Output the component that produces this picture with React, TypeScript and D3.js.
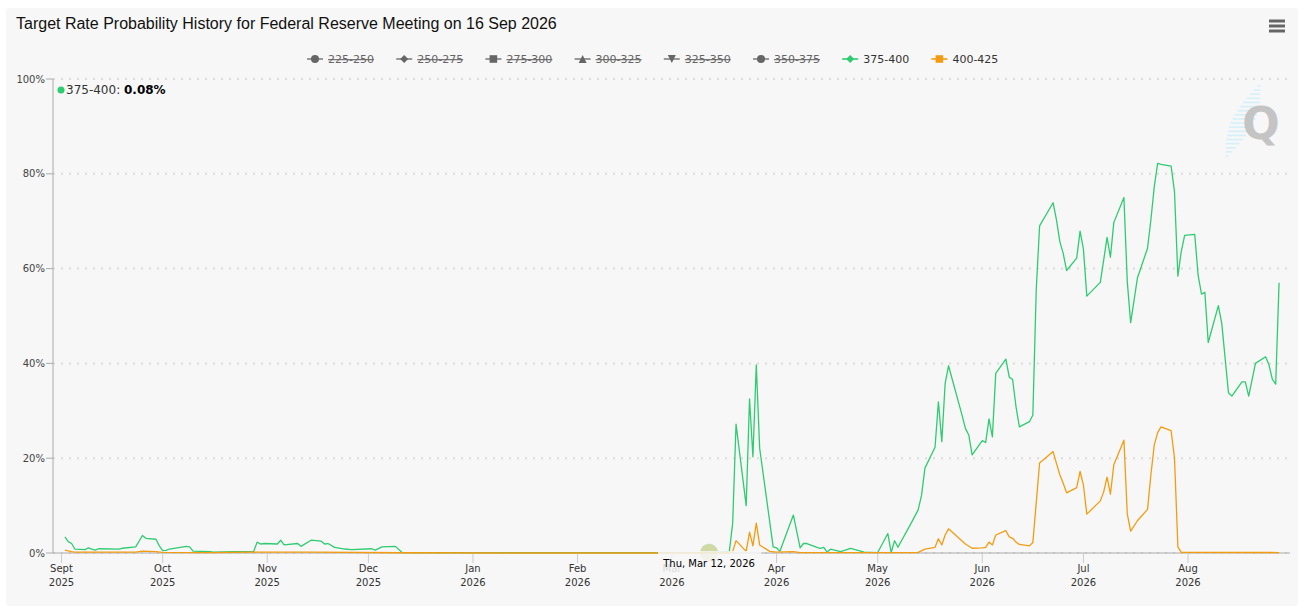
import React from "react";
import * as d3 from "d3";

// legend entries (hidden ones are struck through)
const legendNames = ["225-250", "250-275", "275-300", "300-325", "325-350", "350-375", "375-400", "400-425"];
const legendSymbols = ["circle", "diamond", "square", "triangle", "triangle-down", "circle", "diamond", "square"];
const legendVisible = [false, false, false, false, false, false, true, true];

const yTicks = [0, 20, 40, 60, 80, 100];

// 375-400 probability (%)
const rate375: [string, number][] = [
  ["2025-09-02", 3.4], ["2025-09-03", 2.4], ["2025-09-04", 2.0], ["2025-09-05", 0.8],
  ["2025-09-08", 0.7], ["2025-09-09", 1.1], ["2025-09-10", 0.8], ["2025-09-11", 0.6],
  ["2025-09-12", 0.9], ["2025-09-18", 0.8], ["2025-09-19", 1.0], ["2025-09-23", 1.3],
  ["2025-09-25", 3.7], ["2025-09-26", 3.1], ["2025-09-29", 2.9], ["2025-09-30", 1.5],
  ["2025-10-01", 0.5], ["2025-10-02", 0.55], ["2025-10-03", 0.84], ["2025-10-08", 1.4],
  ["2025-10-09", 1.3], ["2025-10-10", 0.4], ["2025-10-15", 0.3], ["2025-10-16", 0.2],
  ["2025-10-22", 0.3], ["2025-10-28", 0.35], ["2025-10-29", 2.3], ["2025-10-30", 1.9],
  ["2025-10-31", 2.0], ["2025-11-04", 1.9], ["2025-11-05", 2.7], ["2025-11-06", 1.7],
  ["2025-11-10", 2.0], ["2025-11-11", 1.4], ["2025-11-14", 2.7], ["2025-11-17", 2.5],
  ["2025-11-18", 1.9], ["2025-11-19", 2.0], ["2025-11-21", 1.2], ["2025-11-24", 0.84],
  ["2025-11-26", 0.7], ["2025-12-02", 0.9], ["2025-12-03", 0.6], ["2025-12-05", 1.3],
  ["2025-12-09", 1.4], ["2025-12-11", 0.1], ["2026-01-15", 0.08], ["2026-02-16", 0.08],
  ["2026-03-12", 0.08], ["2026-03-18", 0.3], ["2026-03-19", 6.3], ["2026-03-20", 27.2],
  ["2026-03-23", 10.0], ["2026-03-24", 32.5], ["2026-03-25", 20.3], ["2026-03-26", 39.7],
  ["2026-03-27", 22.1], ["2026-03-31", 1.3], ["2026-04-01", 1.1], ["2026-04-02", 0.35],
  ["2026-04-06", 8.0], ["2026-04-08", 1.1], ["2026-04-09", 2.0], ["2026-04-10", 2.0],
  ["2026-04-13", 1.2], ["2026-04-14", 1.0], ["2026-04-15", 1.2], ["2026-04-16", 0.2],
  ["2026-04-17", 0.8], ["2026-04-20", 0.3], ["2026-04-23", 1.0], ["2026-04-27", 0.2],
  ["2026-05-01", 0.1], ["2026-05-04", 4.1], ["2026-05-05", 0.1], ["2026-05-06", 2.6],
  ["2026-05-07", 1.2], ["2026-05-11", 6.4], ["2026-05-13", 9.1], ["2026-05-14", 12.2],
  ["2026-05-15", 17.9], ["2026-05-18", 22.3], ["2026-05-19", 31.9], ["2026-05-20", 23.5],
  ["2026-05-21", 35.8], ["2026-05-22", 39.5], ["2026-05-26", 29.1], ["2026-05-27", 26.3],
  ["2026-05-28", 24.9], ["2026-05-29", 20.7], ["2026-06-01", 23.7], ["2026-06-02", 23.3],
  ["2026-06-03", 28.3], ["2026-06-04", 24.5], ["2026-06-05", 37.9], ["2026-06-08", 40.9],
  ["2026-06-09", 37.1], ["2026-06-10", 36.6], ["2026-06-11", 30.9], ["2026-06-12", 26.6],
  ["2026-06-15", 27.7], ["2026-06-16", 29.1], ["2026-06-17", 55.5], ["2026-06-18", 69.0],
  ["2026-06-22", 73.9], ["2026-06-23", 70.3], ["2026-06-24", 65.7], ["2026-06-25", 63.2],
  ["2026-06-26", 59.6], ["2026-06-29", 62.2], ["2026-06-30", 67.9], ["2026-07-01", 64.1],
  ["2026-07-02", 54.2], ["2026-07-06", 57.1], ["2026-07-07", 61.8], ["2026-07-08", 66.6],
  ["2026-07-09", 62.4], ["2026-07-10", 69.7], ["2026-07-13", 75.0], ["2026-07-14", 57.2],
  ["2026-07-15", 48.6], ["2026-07-17", 58.0], ["2026-07-20", 64.3], ["2026-07-21", 70.3],
  ["2026-07-22", 77.3], ["2026-07-23", 82.2], ["2026-07-24", 82.0], ["2026-07-27", 81.6],
  ["2026-07-28", 76.2], ["2026-07-29", 58.4], ["2026-07-30", 63.6], ["2026-07-31", 67.0],
  ["2026-08-03", 67.2], ["2026-08-04", 58.6], ["2026-08-05", 54.6], ["2026-08-06", 55.0],
  ["2026-08-07", 44.4], ["2026-08-10", 52.2], ["2026-08-11", 48.5], ["2026-08-13", 33.8],
  ["2026-08-14", 33.1], ["2026-08-17", 36.1], ["2026-08-18", 36.1], ["2026-08-19", 33.1],
  ["2026-08-21", 40.0], ["2026-08-24", 41.4], ["2026-08-25", 39.7], ["2026-08-26", 36.7],
  ["2026-08-27", 35.6], ["2026-08-28", 57.0],
];

// 400-425 probability (%)
const rate400: [string, number][] = [
  ["2025-09-02", 0.6], ["2025-09-04", 0.3], ["2025-09-05", 0.2], ["2025-09-23", 0.2],
  ["2025-09-25", 0.4], ["2025-09-29", 0.3], ["2025-10-01", 0.15], ["2025-10-15", 0.1],
  ["2025-10-29", 0.2], ["2025-11-14", 0.2], ["2025-12-11", 0.05], ["2026-01-15", 0.0],
  ["2026-03-18", 0.0], ["2026-03-19", 0.3], ["2026-03-20", 2.6], ["2026-03-23", 0.35],
  ["2026-03-24", 4.4], ["2026-03-25", 1.5], ["2026-03-26", 6.3], ["2026-03-27", 1.7],
  ["2026-03-30", 0.35], ["2026-04-01", 0.2], ["2026-04-06", 0.3], ["2026-04-08", 0.1],
  ["2026-05-12", 0.1], ["2026-05-13", 0.15], ["2026-05-15", 0.8], ["2026-05-18", 1.2],
  ["2026-05-19", 3.0], ["2026-05-20", 1.7], ["2026-05-21", 3.8], ["2026-05-22", 5.1],
  ["2026-05-27", 1.9], ["2026-05-29", 1.0], ["2026-06-01", 1.1], ["2026-06-02", 1.2],
  ["2026-06-03", 2.3], ["2026-06-04", 1.7], ["2026-06-05", 3.8], ["2026-06-08", 4.7],
  ["2026-06-09", 3.4], ["2026-06-10", 3.1], ["2026-06-11", 2.3], ["2026-06-12", 1.8],
  ["2026-06-15", 1.5], ["2026-06-16", 2.2], ["2026-06-18", 19.0], ["2026-06-22", 21.4],
  ["2026-06-23", 18.9], ["2026-06-24", 16.5], ["2026-06-25", 14.7], ["2026-06-26", 12.7],
  ["2026-06-29", 13.8], ["2026-06-30", 17.2], ["2026-07-01", 14.3], ["2026-07-02", 8.2],
  ["2026-07-06", 11.0], ["2026-07-07", 12.9], ["2026-07-08", 16.0], ["2026-07-09", 12.4],
  ["2026-07-10", 18.6], ["2026-07-13", 23.8], ["2026-07-14", 8.2], ["2026-07-15", 4.6],
  ["2026-07-17", 6.8], ["2026-07-20", 9.2], ["2026-07-21", 16.5], ["2026-07-22", 22.8],
  ["2026-07-23", 25.4], ["2026-07-24", 26.6], ["2026-07-27", 25.8], ["2026-07-28", 20.0],
  ["2026-07-29", 1.3], ["2026-07-30", 0.15], ["2026-08-28", 0.1],
];

const hoverDate = "2026-03-12";
const hoverLabel = "Thu, Mar 12, 2026";
const hoverValue = "0.08%";

const GREEN = "#2ecc71";
const ORANGE = "#f39c12";
const FONT = "'DejaVu Sans', sans-serif";

const parse = d3.utcParse("%Y-%m-%d");

type Pt = { date: Date; value: number };
const toPts = (rows: [string, number][]): Pt[] => rows.map(([d, v]) => ({ date: parse(d)!, value: v }));

const symbolPath = (type: string, r: number) => {
  switch (type) {
    case "circle":
      return `M${-r},0a${r},${r} 0 1,0 ${2 * r},0a${r},${r} 0 1,0 ${-2 * r},0Z`;
    case "diamond":
      return `M0,${-r}L${r},0L0,${r}L${-r},0Z`;
    case "square":
      return `M${-r},${-r}H${r}V${r}H${-r}Z`;
    case "triangle":
      return `M0,${-r}L${r},${r}H${-r}Z`;
    default:
      return `M${-r},${-r}H${r}L0,${r}Z`;
  }
};

const App: React.FC = () => {
  const width = 1299;
  const height = 609;
  const plotLeft = 53;
  const plotRight = 1290;
  const plotTop = 79;
  const plotBottom = 553;

  const x = d3
    .scaleUtc()
    .domain([parse("2025-09-01")!, parse("2026-08-01")!])
    .range([61.5, 1188]);

  const y = d3.scaleLinear().domain([0, 100]).range([plotBottom, plotTop]);

  const line = d3
    .line<Pt>()
    .x((d) => x(d.date))
    .y((d) => y(d.value));

  const green = toPts(rate375);
  const orange = toPts(rate400);

  const months = d3.utcMonth.range(parse("2025-09-01")!, parse("2026-08-02")!);
  const fmtMonth = d3.utcFormat("%b");
  const fmtYear = d3.utcFormat("%Y");

  const hx = x(parse(hoverDate)!);

  const legendStart = 307;
  const legendStep = 89.2;
  const legendY = 59;

  // decorative stripes for the watermark logo
  const stripes = d3.range(18).map((i) => {
    const t = i / 17;
    const cy = 86 + t * 70;
    const cx = 1262 - t * 32;
    const w = 3 + 20 * Math.sin(Math.PI * t);
    return { cy, x1: cx - w / 2 - 3, x2: cx + w / 2 - 3 };
  });

  return (
    <svg
      width={width}
      height={height}
      viewBox={`0 0 ${width} ${height}`}
      style={{ position: "absolute", left: 0, top: 0 }}
    >
      <rect x={0} y={0} width={width} height={height} fill="#ffffff" />
      <rect x={6} y={8} width={1292} height={598} rx={3} fill="#f7f7f7" />

      {/* title */}
      <text x={16} y={28.5} fontFamily="'Liberation Sans', Arial, sans-serif" fontSize={16} fill="#111">
        Target Rate Probability History for Federal Reserve Meeting on 16 Sep 2026
      </text>

      {/* menu */}
      {[21, 26, 31].map((yy) => (
        <line key={yy} x1={1269} x2={1285} y1={yy} y2={yy} stroke="#666" strokeWidth={3} />
      ))}

      {/* legend */}
      {legendNames.map((name, i) => {
        const x0 = legendStart + i * legendStep;
        const on = legendVisible[i];
        const col = on ? (i === 6 ? GREEN : ORANGE) : "#666";
        const lineCol = on ? col : "#999";
        return (
          <g key={name}>
            <line x1={x0} x2={x0 + 16} y1={legendY} y2={legendY} stroke={lineCol} strokeWidth={2} opacity={on ? 0.8 : 1} />
            <path d={symbolPath(legendSymbols[i], legendSymbols[i] === "square" ? 3.8 : 4)} transform={`translate(${x0 + 8},${legendY})`} fill={col} />
            <text
              x={x0 + 21}
              y={legendY + 4}
              fontFamily={FONT}
              fontSize={11}
              fill={on ? "#333" : "#666"}
              textDecoration={on ? undefined : "line-through"}
            >
              {name}
            </text>
          </g>
        );
      })}

      {/* gridlines */}
      {yTicks.map((t) => (
        <line
          key={t}
          x1={plotLeft}
          x2={plotRight}
          y1={y(t)}
          y2={y(t)}
          stroke="#dcdcdc"
          strokeWidth={2}
          strokeDasharray="2,6"
        />
      ))}

      {/* y axis */}
      <line x1={plotLeft} x2={plotLeft} y1={plotTop} y2={plotBottom} stroke="#aaa" strokeWidth={1} />
      {yTicks.map((t) => (
        <g key={t}>
          <line x1={plotLeft - 7} x2={plotLeft} y1={y(t)} y2={y(t)} stroke="#aaa" />
          <text x={45} y={y(t) + 3.5} textAnchor="end" fontFamily={FONT} fontSize={10} fill="#444">
            {t}%
          </text>
        </g>
      ))}

      {/* x axis */}
      <line x1={plotLeft} x2={plotRight} y1={plotBottom} y2={plotBottom} stroke="#aaa" strokeWidth={1} />
      {months.map((m) => {
        const mx = x(m);
        const label = fmtMonth(m) === "Sep" ? "Sept" : fmtMonth(m);
        return (
          <g key={m.toISOString()}>
            <line x1={mx} x2={mx} y1={plotBottom} y2={plotBottom + 10} stroke="#ccc" />
            <text x={mx} y={572} textAnchor="middle" fontFamily={FONT} fontSize={10} fill="#333">
              {label}
            </text>
            <text x={mx} y={586} textAnchor="middle" fontFamily={FONT} fontSize={10} fill="#333">
              {fmtYear(m)}
            </text>
          </g>
        );
      })}

      {/* series */}
      <path d={line(green) ?? ""} fill="none" stroke={GREEN} strokeWidth={1.3} strokeLinejoin="round" />
      <path d={line(orange) ?? ""} fill="none" stroke={ORANGE} strokeWidth={1.3} strokeLinejoin="round" />

      {/* watermark */}
      {stripes.map((s, i) => (
        <line key={i} x1={s.x1} x2={s.x2} y1={s.cy} y2={s.cy} stroke="#d3f0fb" strokeWidth={1.6} />
      ))}
      <text x={1261} y={139} textAnchor="middle" fontFamily={FONT} fontWeight="bold" fontSize={44} fill="#c4c4c4">
        Q
      </text>

      {/* hover halo */}
      <circle cx={hx} cy={y(0.08)} r={9} fill={GREEN} opacity={0.25} />
      <circle cx={hx} cy={y(0)} r={9} fill={ORANGE} opacity={0.25} />

      {/* crosshair label */}
      <rect x={hx - 51} y={551} width={103} height={24} fill="#f7f7f7" opacity={0.85} />
      <text x={hx} y={567} textAnchor="middle" fontFamily={FONT} fontSize={10} fill="#000">
        {hoverLabel}
      </text>

      {/* tooltip */}
      <circle cx={61} cy={90} r={3.5} fill={GREEN} />
      <text x={66} y={94} fontFamily={FONT} fontSize={12} fill="#333">
        {legendNames[6]}: <tspan fontWeight="bold" fill="#000">{hoverValue}</tspan>
      </text>
    </svg>
  );
};

export default App;
